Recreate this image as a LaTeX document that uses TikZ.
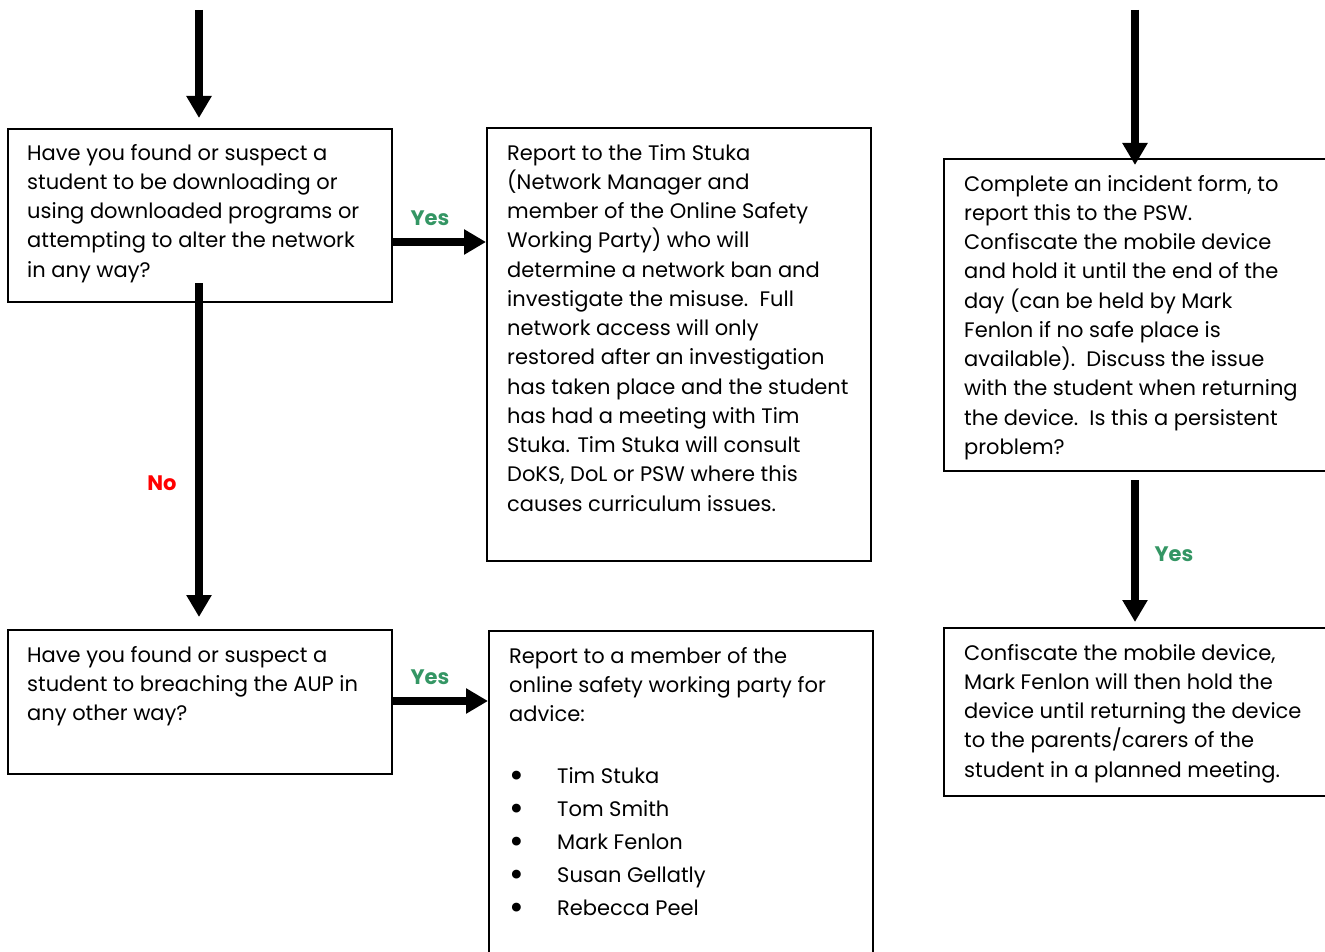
\documentclass[tikz,border=0pt]{standalone}
\usepackage{fontspec}
\usepackage{graphicx}
\setmainfont{Poppins}
\usetikzlibrary{arrows.meta}
\definecolor{yesgreen}{RGB}{52,150,100}
\definecolor{nored}{RGB}{255,0,0}
\newcommand{\bul}{\makebox[48pt][l]{\raisebox{-4.5pt}{\scalebox{1.7}{\textbullet}}}}
\tikzset{
  box/.style={draw=black, line width=1.8pt, inner sep=0pt, anchor=north west},
  txt/.style={inner sep=0pt, anchor=north west, align=left, font=\fontsize{21}{29.25}\selectfont},
  arr/.style={line width=8pt, -{Triangle[width=24pt,length=22pt]}},
  yes/.style={text=yesgreen, font=\fontsize{21}{24}\selectfont\bfseries},
  no/.style={text=nored, font=\fontsize{21}{24}\selectfont\bfseries}
}
\begin{document}
\begin{tikzpicture}[x=1pt,y=-1pt]
\useasboundingbox (0,0) rectangle (1325,952);
% boxes
\node[box, minimum width=384pt, minimum height=173pt] (b1) at (7,128) {};
\node[box, minimum width=384pt, minimum height=433pt] (b2) at (486,127) {};
\node[box, minimum width=384pt, minimum height=144pt] (b3) at (7,629) {};
\node[box, minimum width=384pt, minimum height=340pt] (b4) at (488,630) {};
\node[box, minimum width=400pt, minimum height=312pt] (b5) at (943,158) {};
\node[box, minimum width=400pt, minimum height=168pt] (b6) at (943,627) {};
% texts
\node[txt] (t1) at (27,139.5) {\strut Have you found or suspect a\\student to be downloading or\\using downloaded programs or\\attempting to alter the network\\in any way?};
\node[txt] (t2) at (507,139.5) {\strut Report to the Tim Stuka\\(Network Manager and\\member of the Online Safety\\Working Party) who will\\determine a network ban and\\investigate the misuse.\ \ Full\\network access will only\\restored after an investigation\\has taken place and the student\\has had a meeting with Tim\\Stuka. Tim Stuka will consult\\DoKS, DoL or PSW where this\\causes curriculum issues.};
\node[txt] (t3) at (27,641.5) {\strut Have you found or suspect a\\student to breaching the AUP in\\any other way?};
\node[txt] (t4) at (509,642.5) {\strut Report to a member of the\\online safety working party for\\advice:};
\node[txt, font=\fontsize{21}{33}\selectfont] (t4b) at (509,759.9) {\strut\bul Tim Stuka\\\bul Tom Smith\\\bul Mark Fenlon\\\bul Susan Gellatly\\\bul Rebecca Peel};
\node[txt] (t5) at (964,170.5) {\strut Complete an incident form, to\\report this to the PSW.\\Confiscate the mobile device\\and hold it until the end of the\\day (can be held by Mark\\Fenlon if no safe place is\\available).\ \ Discuss the issue\\with the student when returning\\the device.\ \ Is this a persistent\\problem?};
\node[txt] (t6) at (964,639.5) {\strut Confiscate the mobile device,\\Mark Fenlon will then hold the\\device until returning the device\\to the parents/carers of the\\student in a planned meeting.};
% free ends
\coordinate (s1) at (199,10);
\coordinate (s2) at (1135,10);
\coordinate (d1) at (199,283);
\coordinate (d2) at (1135,480);
\coordinate (ya) at (0,242);
\coordinate (yb) at (0,701);
% connectors
\draw[arr] (s1) -- (199,118);
\draw[arr] (s2) -- (1135,165);
\draw[arr] (d1) -- (199,617);
\draw[arr] (d2) -- (1135,622);
\draw[arr] (b1.east |- ya) -- (b2.west |- ya);
\draw[arr] (b3.east |- yb) -- (b4.west |- yb);
% labels
\node[yes] (l1) at (430,218) {Yes};
\node[yes] (l2) at (430,677) {Yes};
\node[yes] (l3) at (1174,554) {Yes};
\node[no] (l4) at (162,483) {No};
\end{tikzpicture}
\end{document}
